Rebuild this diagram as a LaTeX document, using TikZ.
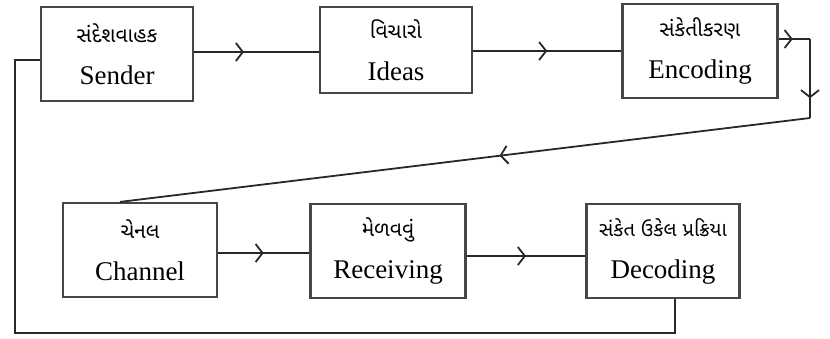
\documentclass[tikz,border=0pt]{standalone}
\usepackage{fontspec}
\setmainfont{Liberation Serif}
\newfontfamily\guj[Script=Gujarati]{Noto Sans Gujarati UI}
\usetikzlibrary{arrows.meta,decorations.markings}

\tikzset{every picture/.style={line width=1.8pt}}

\begin{document}
\begin{tikzpicture}[x=1pt,y=1pt,yscale=-1,
  stagebox/.style={draw={rgb,255:red,70;green,70;blue,70},line width=2.2pt,fill=white,
    minimum width=#1,minimum height=94,align=center,inner sep=0pt,
    font=\fontsize{27}{30}\selectfont},
  flow/.style={draw={rgb,255:red,40;green,40;blue,40},line width=1.8pt},
  midarr/.style={postaction={decorate},decoration={markings,
    mark=at position #1 with {\arrow[line width=1.8pt]{Straight Barb[length=7,width=18]}}}}]
\useasboundingbox (0,0) rectangle (830,338);

% Boxes, top row
\node [stagebox=152] (sen) at (117,54) {{\guj\fontsize{21}{23}\selectfont સંદેશવાહક}\\[12pt]Sender};
\node [stagebox=152,minimum height=86] (ideas) at (396,50) {{\guj\fontsize{21}{23}\selectfont વિચારો}\\[12pt]Ideas};
\node [stagebox=155] (enc) at (700,51) {{\guj\fontsize{21}{23}\selectfont સંકેતીકરણ}\\[12pt]Encoding};
% Boxes, bottom row
\node [stagebox=154] (chan) at (140,250) {{\guj\fontsize{21}{23}\selectfont ચેનલ}\\[12pt]Channel};
\node [stagebox=155] (recv) at (388,251) {{\guj\fontsize{21}{23}\selectfont મેળવવું}\\[12pt]Receiving};
\node [stagebox=153] (dec) at (663,251) {{\guj\fontsize{20}{22}\selectfont સંકેત ઉકેલ પ્રક્રિયા}\\[12pt]Decoding};

% Turning points
\coordinate (turnA) at (810,39);
\coordinate (turnB) at (810,118);
\coordinate (backA) at (15,333);
\coordinate (backB) at (15,60);

% Straight Lines
\draw [flow,midarr=0.4] (sen.east |- 0,52) -- (ideas.west |- 0,52);
\draw [flow,midarr=0.5] (ideas.east |- 0,51) -- (enc.west |- 0,51);
\draw [flow,midarr=0.45] (enc.east |- turnA) -- (turnA);
\draw [flow,midarr=0.75] (turnA) -- (turnB);
\draw [flow,midarr=0.45] (turnB) -- ([xshift=-20]chan.north);
\draw [flow,midarr=0.5] (chan.east |- 0,253) -- (recv.west |- 0,253);
\draw [flow,midarr=0.5] (recv.east |- 0,256) -- (dec.west |- 0,256);
% Feedback
\draw [flow] ([xshift=12]dec.south) |- (backA) -- (backB) -- (backB -| sen.west);

\end{tikzpicture}
\end{document}
